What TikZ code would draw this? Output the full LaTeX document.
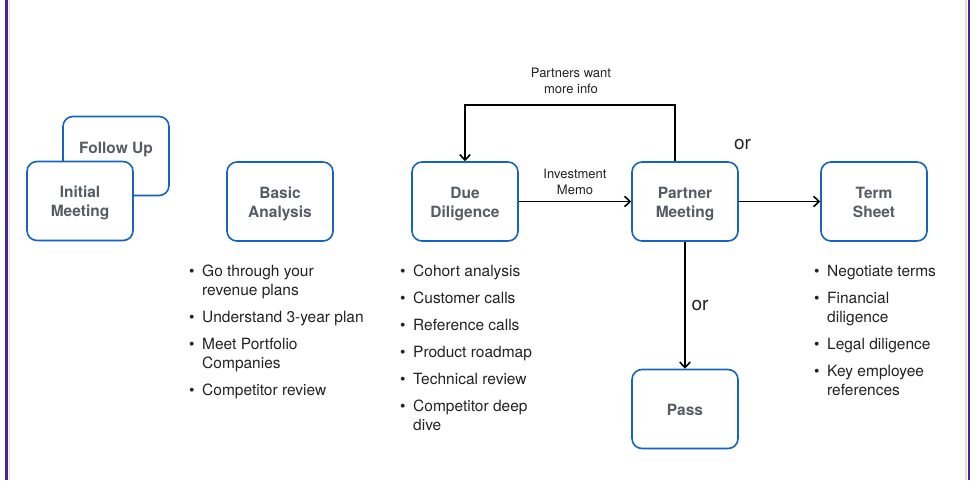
\documentclass[tikz,border=0pt]{standalone}
\usepackage{fontspec}
\setmainfont{TeX Gyre Heros}
\usetikzlibrary{arrows.meta,shadows}
\definecolor{vcblue}{HTML}{1565C0}
\definecolor{vcgray}{HTML}{575B63}
\definecolor{vcink}{HTML}{222222}
\definecolor{vcpurple}{HTML}{4527A0}
\newcommand{\vcdot}{\makebox[13pt][l]{\textbullet}}
\newcommand{\vcpair}[2]{\begin{tabular}[b]{@{}c@{}}#1\\#2\end{tabular}}

\tikzset{
  stage/.style={draw=vcblue, line width=1.6pt, rounded corners=10pt, fill=white,
    minimum width=106pt, minimum height=79pt, text=vcgray,
    font=\fontsize{15.5}{19}\selectfont\bfseries,
    text height=36pt, text depth=5pt,
    drop shadow={shadow xshift=0.8pt, shadow yshift=-0.8pt, opacity=0.25, fill=vcblue!50}},
  stagetext/.style={text=vcgray, inner sep=0pt, font=\fontsize{15.5}{19}\selectfont\bfseries},
  flow/.style={line width=1.6pt, -{Straight Barb[length=5.5pt,width=10.5pt,line width=1.6pt]}},
  note/.style={align=center, text=vcink, inner sep=0pt, font=\fontsize{13}{16}\selectfont},
  ornote/.style={text=vcink, inner sep=0pt, font=\fontsize{19}{22}\selectfont},
  bullets/.style={anchor=north west, inner sep=0pt, text=vcink, font=\fontsize{15.5}{19}\selectfont},
}

\begin{document}
\begin{tikzpicture}[x=1pt,y=-1pt]
  \useasboundingbox (0,0) rectangle (980,480);
  % frame
  \draw[black!12, line width=1.5pt] (9.5,0) -- (9.5,480);
  \draw[black!12, line width=1.5pt] (966,0) -- (966,480);
  \draw[vcpurple, line width=2.5pt] (6.5,0) -- (6.5,480);
  \draw[vcpurple, line width=2.5pt] (969,0) -- (969,480);

  % stages
  \node[stage] (followup) at (116,156) {};
  \node[stagetext, anchor=base] (followuptext) at (116,153) {Follow Up};
  \node[stage] (initialmeeting) at (80,201) {\vcpair{Initial}{Meeting}};
  \node[stage] (basicanalysis) at (280,201.5) {\vcpair{Basic}{Analysis}};
  \node[stage] (duediligence) at (465,201.5) {\vcpair{Due}{Diligence}};
  \node[stage] (partnermeeting) at (685,201.5) {\vcpair{Partner}{Meeting}};
  \node[stage] (termsheet) at (874,201.5) {\vcpair{Term}{Sheet}};
  \node[stage, text height=17pt] (pass) at (685,409) {Pass};

  % connectors
  \draw[flow] (duediligence) -- (partnermeeting);
  \draw[flow] ([xshift=-10pt]partnermeeting.north) -- ++(0,-56) -| (duediligence.north);
  \draw[flow] (partnermeeting) -- (termsheet);
  \draw[flow] (partnermeeting) -- (pass);

  \node[note] (memo) at (575,182) {Investment\\Memo};
  \node[note] (moreinfo) at (571,81) {Partners want\\more info};
  \node[ornote] (orterm) at (742.5,145) {or};
  \node[ornote] (orpass) at (700,305.5) {or};

  % bullet lists
  \node[bullets] (basiclist) at (189,262.7) {\begin{tabular}{@{}l@{}l@{}}
    \vcdot & Go through your\\ & revenue plans\\[8pt]
    \vcdot & Understand 3-year plan\\[8pt]
    \vcdot & Meet Portfolio\\ & Companies\\[8pt]
    \vcdot & Competitor review
  \end{tabular}};
  \node[bullets] (dilist) at (400,262.7) {\begin{tabular}{@{}l@{}l@{}}
    \vcdot & Cohort analysis\\[8pt]
    \vcdot & Customer calls\\[8pt]
    \vcdot & Reference calls\\[8pt]
    \vcdot & Product roadmap\\[8pt]
    \vcdot & Technical review\\[8pt]
    \vcdot & Competitor deep\\ & dive
  \end{tabular}};
  \node[bullets] (termlist) at (814,262.7) {\begin{tabular}{@{}l@{}l@{}}
    \vcdot & Negotiate terms\\[8pt]
    \vcdot & Financial\\ & diligence\\[8pt]
    \vcdot & Legal diligence\\[8pt]
    \vcdot & Key employee\\ & references
  \end{tabular}};
\end{tikzpicture}
\end{document}
